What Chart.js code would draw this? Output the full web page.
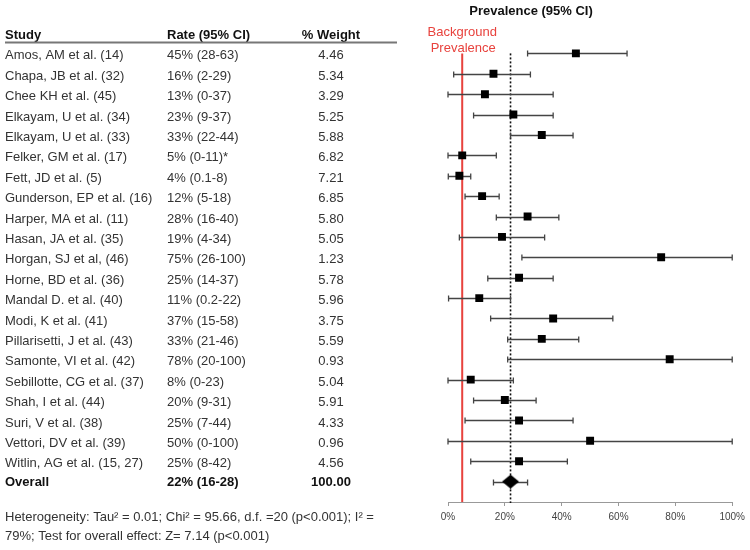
<html><head><title>Prevalence forest plot</title>
<script src="https://cdn.jsdelivr.net/npm/chart.js"></script>
<style>
    body {
        margin: 0;
        background: #fff;
    }
    #chart-container {
        width: 750px;
        height: 550px;
    }
</style>
</head>
<body>
    <div id="chart-container">
        <canvas id="forestChart" width="750" height="550"></canvas>
    </div>

    <script>
    const studies = [
        'Amos, AM et al. (14)', 'Chapa, JB et al. (32)', 'Chee KH et al. (45)',
        'Elkayam, U et al. (34)', 'Elkayam, U et al. (33)', 'Felker, GM et al. (17)',
        'Fett, JD et al. (5)', 'Gunderson, EP et al. (16)', 'Harper, MA et al. (11)',
        'Hasan, JA et al. (35)', 'Horgan, SJ et al, (46)', 'Horne, BD et al. (36)',
        'Mandal D. et al. (40)', 'Modi, K et al. (41)', 'Pillarisetti, J et al. (43)',
        'Samonte, VI et al. (42)', 'Sebillotte, CG et al. (37)', 'Shah, I et al. (44)',
        'Suri, V et al. (38)', 'Vettori, DV et al. (39)', 'Witlin, AG et al. (15, 27)'
    ];
    const rateLabels = [
        '45% (28-63)', '16% (2-29)', '13% (0-37)', '23% (9-37)', '33% (22-44)',
        '5% (0-11)*', '4% (0.1-8)', '12% (5-18)', '28% (16-40)', '19% (4-34)',
        '75% (26-100)', '25% (14-37)', '11% (0.2-22)', '37% (15-58)', '33% (21-46)',
        '78% (20-100)', '8% (0-23)', '20% (9-31)', '25% (7-44)', '50% (0-100)', '25% (8-42)'
    ];
    const weights = [
        '4.46', '5.34', '3.29', '5.25', '5.88', '6.82', '7.21', '6.85', '5.80', '5.05',
        '1.23', '5.78', '5.96', '3.75', '5.59', '0.93', '5.04', '5.91', '4.33', '0.96', '4.56'
    ];
    // plotted values (as drawn in the picture)
    const rates = [45, 16, 13, 23, 33, 5, 4, 12, 28, 19, 75, 25, 11, 37, 33, 78, 8, 20, 25, 50, 25];
    const ciLow = [28, 2, 0, 9, 22, 0, 0.1, 6, 17, 4, 26, 14, 0.2, 15, 21, 21, 0, 9, 6, 0, 8];
    const ciHigh = [63, 29, 37, 37, 44, 17, 8, 18, 39, 34, 100, 37, 22, 58, 46, 100, 23, 31, 44, 100, 42];

    const overallLabel = '22% (16-28)';
    const overallWeight = '100.00';
    const overallRate = 22;
    const overallLow = 16;
    const overallHigh = 28;
    const backgroundRate = 5;

    const xTicks = [0, 20, 40, 60, 80, 100];

    const FONT = "'Liberation Sans', Arial, sans-serif";

    // diamond marker for the pooled estimate (a bit wider than tall)
    const diamond = document.createElement('canvas');
    diamond.width = 17;
    diamond.height = 14;
    const dctx = diamond.getContext('2d');
    dctx.fillStyle = '#000';
    dctx.beginPath();
    dctx.moveTo(8.5, 0);
    dctx.lineTo(17, 7);
    dctx.lineTo(8.5, 14);
    dctx.lineTo(0, 7);
    dctx.closePath();
    dctx.fill();

    const forestPlugin = {
        id: 'forest',
        beforeDatasetsDraw(chart) {
            const ctx = chart.ctx;
            const x = chart.scales.x;
            const y = chart.scales.y;
            const area = chart.chartArea;
            ctx.save();

            // background prevalence line
            ctx.strokeStyle = '#e8423d';
            ctx.lineWidth = 2;
            ctx.beginPath();
            ctx.moveTo(x.getPixelForValue(backgroundRate), y.getPixelForValue(0));
            ctx.lineTo(x.getPixelForValue(backgroundRate), area.bottom);
            ctx.stroke();

            // overall dotted line
            ctx.strokeStyle = '#111';
            ctx.lineWidth = 1.6;
            ctx.setLineDash([2, 2]);
            ctx.beginPath();
            ctx.moveTo(x.getPixelForValue(overallRate), y.getPixelForValue(0));
            ctx.lineTo(x.getPixelForValue(overallRate), area.bottom + 1);
            ctx.stroke();
            ctx.setLineDash([]);

            // confidence intervals
            const lows = ciLow.concat([overallLow]);
            const highs = ciHigh.concat([overallHigh]);
            ctx.strokeStyle = '#444';
            ctx.lineWidth = 1.3;
            lows.forEach((lo, i) => {
                const py = Math.round(y.getPixelForValue(i)) + 0.5;
                const x1 = x.getPixelForValue(lo);
                const x2 = x.getPixelForValue(highs[i]);
                ctx.beginPath();
                ctx.moveTo(x1, py);
                ctx.lineTo(x2, py);
                ctx.moveTo(x1, py - 3);
                ctx.lineTo(x1, py + 3);
                ctx.moveTo(x2, py - 3);
                ctx.lineTo(x2, py + 3);
                ctx.stroke();
            });
            ctx.restore();
        },
        afterDraw(chart) {
            const ctx = chart.ctx;
            const x = chart.scales.x;
            const y = chart.scales.y;
            ctx.save();
            ctx.textBaseline = 'middle';

            // plot title
            ctx.fillStyle = '#111';
            ctx.font = 'bold 13px ' + FONT;
            ctx.textAlign = 'center';
            ctx.fillText('Prevalence (95% CI)', 531, 11);

            // background label
            ctx.fillStyle = '#e8423d';
            ctx.font = '13px ' + FONT;
            const bx = x.getPixelForValue(backgroundRate);
            ctx.fillText('Background', bx, 32);
            ctx.fillText('Prevalence', bx + 1, 48);

            // table header
            ctx.fillStyle = '#111';
            ctx.font = 'bold 13px ' + FONT;
            ctx.textAlign = 'left';
            ctx.fillText('Study', 5, 35);
            ctx.fillText('Rate (95% CI)', 167, 35);
            ctx.textAlign = 'center';
            ctx.fillText('% Weight', 331, 35);
            ctx.strokeStyle = '#777';
            ctx.lineWidth = 2;
            ctx.beginPath();
            ctx.moveTo(5, 42.5);
            ctx.lineTo(397, 42.5);
            ctx.stroke();

            // table rows
            ctx.fillStyle = '#333';
            ctx.font = '13px ' + FONT;
            studies.forEach((s, i) => {
                const py = y.getPixelForValue(i) + 2.5;
                ctx.textAlign = 'left';
                ctx.fillText(s, 5, py);
                ctx.fillText(rateLabels[i], 167, py);
                ctx.textAlign = 'center';
                ctx.fillText(weights[i], 331, py);
            });

            // overall row
            ctx.fillStyle = '#111';
            ctx.font = 'bold 13px ' + FONT;
            const oy = y.getPixelForValue(studies.length) + 1;
            ctx.textAlign = 'left';
            ctx.fillText('Overall', 5, oy);
            ctx.fillText(overallLabel, 167, oy);
            ctx.textAlign = 'center';
            ctx.fillText(overallWeight, 331, oy);

            // heterogeneity note
            ctx.fillStyle = '#333';
            ctx.font = '13px ' + FONT;
            ctx.textAlign = 'left';
            ctx.fillText('Heterogeneity: Tau\u00b2 = 0.01; Chi\u00b2 = 95.66, d.f. =20 (p<0.001); I\u00b2 =', 5, 517);
            ctx.fillText('79%; Test for overall effect: Z= 7.14 (p<0.001)', 5, 536);
            ctx.restore();
        }
    };

    const ctx = document.getElementById('forestChart').getContext('2d');
    new Chart(ctx, {
        type: 'scatter',
        data: {
            datasets: [{
                label: 'Studies',
                data: rates.map((r, i) => ({ x: r, y: i })),
                pointStyle: 'rect',
                pointRadius: 5.6,
                backgroundColor: '#000',
                borderWidth: 0
            }, {
                label: 'Overall',
                data: [{ x: overallRate, y: studies.length }],
                pointStyle: diamond,
                pointRadius: 8,
                backgroundColor: '#000',
                borderWidth: 0
            }]
        },
        options: {
            responsive: false,
            animation: false,
            devicePixelRatio: 1,
            layout: {
                padding: { left: 448, right: 17, top: 33, bottom: 18 }
            },
            plugins: {
                legend: { display: false },
                tooltip: { enabled: false }
            },
            scales: {
                x: {
                    type: 'linear',
                    min: 0,
                    max: 100,
                    afterBuildTicks: (scale) => {
                        scale.ticks = xTicks.map(v => ({ value: v }));
                    },
                    afterFit: (scale) => { scale.height = 30; },
                    ticks: {
                        callback: (v) => v + '%',
                        font: { family: FONT, size: 10 },
                        color: '#444',
                        padding: 5,
                        maxRotation: 0
                    },
                    grid: {
                        drawOnChartArea: false,
                        drawTicks: true,
                        tickLength: 4,
                        color: '#999'
                    },
                    border: { color: '#999', width: 1 }
                },
                y: {
                    type: 'linear',
                    min: -1,
                    max: 22,
                    reverse: true,
                    display: false
                }
            }
        },
        plugins: [forestPlugin]
    });
    </script>
</body>
</html>
